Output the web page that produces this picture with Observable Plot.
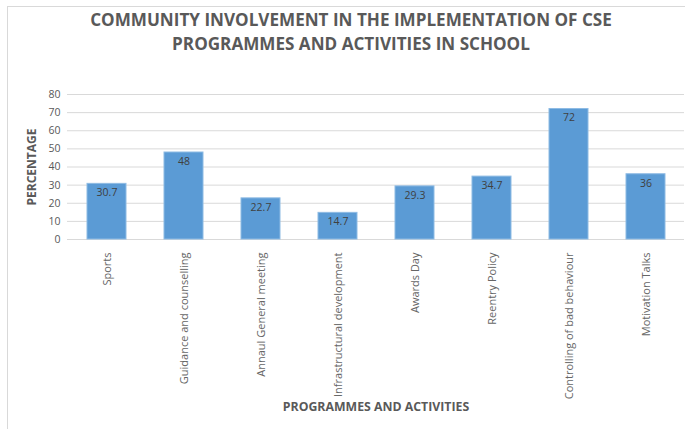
<!DOCTYPE html>
<html>
<head>
<meta charset="utf-8">
<script src="https://cdn.jsdelivr.net/npm/d3@7"></script>
<script src="https://cdn.jsdelivr.net/npm/@observablehq/plot@0.6"></script>
<style>
  html, body { margin: 0; padding: 0; background: #fff; }
  #wrap { position: relative; width: 685px; height: 429px; overflow: hidden; font-family: "Open Sans", "Liberation Sans", sans-serif; }
  #border { position: absolute; left: 7px; top: 6px; width: 700px; height: 440px; border-left: 1px solid #d9d9d9; border-top: 1px solid #d9d9d9; box-sizing: border-box; }
  #title { position: absolute; left: 0; top: 7.5px; width: 702px; text-align: center; font-family: "Open Sans", sans-serif; font-weight: bold; font-size: 17.1px; line-height: 24px; color: #595959; white-space: nowrap; }
  #chart { position: absolute; left: 0; top: 0; }
</style>
</head>
<body>
<div id="wrap">
  <div id="border"></div>
  <div id="chart"></div>
  <div id="title">COMMUNITY INVOLVEMENT IN THE IMPLEMENTATION OF CSE<br>PROGRAMMES AND ACTIVITIES IN SCHOOL</div>
</div>
<script>
const categories = ["Sports", "Guidance and counselling", "Annaul General meeting", "Infrastructural development", "Awards Day", "Reentry Policy", "Controlling of bad behaviour", "Motivation Talks"];
const values = [30.7, 48, 22.7, 14.7, 29.3, 34.7, 72, 36];
const yTicks = [0, 10, 20, 30, 40, 50, 60, 70, 80];
const xTitle = "PROGRAMMES AND ACTIVITIES";
const yTitle = "PERCENTAGE";

const data = categories.map((c, i) => ({category: c, value: values[i]}));

const chart = Plot.plot({
  width: 685,
  height: 429,
  marginTop: 94,
  marginBottom: 190,
  marginLeft: 67,
  marginRight: 1,
  style: {fontFamily: "'Open Sans', 'Liberation Sans', sans-serif", background: "transparent"},
  x: {domain: categories, paddingInner: 0.5, paddingOuter: 0.25},
  y: {domain: [0, 80]},
  marks: [
    Plot.gridY(yTicks, {stroke: "#d9d9d9", strokeOpacity: 1, strokeWidth: 1}),
    Plot.barY(data, {x: "category", y: "value", fill: "#5b9bd5", stroke: "#8ebbe4", strokeWidth: 1}),
    Plot.axisY(yTicks, {tickSize: 0, tickPadding: 7, label: null, fontSize: 10.5, fill: "#595959"}),
    Plot.axisX({tickSize: 0, tickPadding: 13, tickRotate: -90, label: null, fontSize: 11, fill: "#666666"}),
    Plot.text(data, {x: "category", y: "value", text: d => String(d.value), dy: 9, fill: "#404040", fontSize: 10.5}),
    Plot.text([xTitle], {frameAnchor: "bottom", dy: 171, text: d => d, textAnchor: "middle", fontWeight: "bold", fontSize: 12.3, fill: "#595959"}),
    Plot.text([yTitle], {frameAnchor: "left", dx: -35, rotate: -90, text: d => d, textAnchor: "middle", fontWeight: "bold", fontSize: 12, fill: "#595959"})
  ]
});
document.getElementById("chart").appendChild(chart);
</script>
</body>
</html>
